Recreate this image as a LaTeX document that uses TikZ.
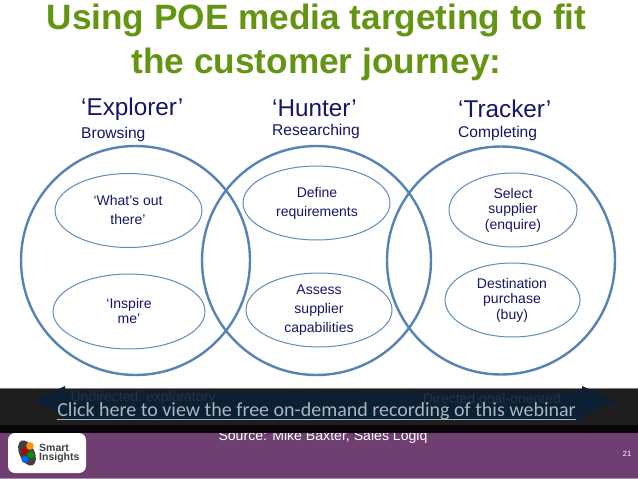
\documentclass[tikz,border=0pt]{standalone}
\usepackage{fontspec}
\setmainfont{Liberation Sans}
\newfontfamily\carl{Carlito}
\definecolor{ttl}{HTML}{639412}
\definecolor{ring}{HTML}{5583B5}
\definecolor{ringb}{HTML}{5F8CBB}
\definecolor{plum}{HTML}{6E3F70}
\definecolor{barc}{HTML}{1E1E1E}
\definecolor{navy}{HTML}{0C1F33}
\definecolor{ink}{HTML}{15156A}
\definecolor{dimtext}{HTML}{24333F}
\definecolor{linktext}{HTML}{A9B6C0}
\tikzset{
  x=1pt,y=-1pt,
  head/.style={font=\fontsize{24.3}{24.3}\selectfont,anchor=base west,inner sep=0pt,text=ink},
  sub/.style={font=\fontsize{15.6}{15.6}\selectfont,anchor=base west,inner sep=0pt,text=ink},
  inner/.style={font=\fontsize{14}{19}\selectfont,align=center,inner sep=0pt,text=ink},
  tight/.style={font=\fontsize{14}{15.5}\selectfont,align=center,inner sep=0pt,text=ink},
  big/.style={draw=ring,line width=2.4pt},
  small/.style={draw=ringb,line width=1pt},
}
\begin{document}
\begin{tikzpicture}
\useasboundingbox (0,0) rectangle (638,479);
\fill[white] (0,0) rectangle (638,479);
\node[font=\bfseries\fontsize{35.2}{44}\selectfont,text=ttl,align=center,inner sep=0pt] (title) at (316.5,42.5) {Using POE media targeting to fit\\the customer journey:};
\node[head] (h1) at (81,115) {‘Explorer’};
\node[head] (h2) at (272,116) {‘Hunter’};
\node[head] (h3) at (458,117) {‘Tracker’};
\node[sub] (s1) at (81,138) {Browsing};
\node[sub] (s2) at (272,135) {Researching};
\node[sub] (s3) at (458,137) {Completing};
\draw[big] (135.5,260.5) circle (114.5);
\draw[big] (316.5,260.5) circle (114.5);
\draw[big] (501,260.5) circle (114);
\draw[small] (128.5,210.5) ellipse (73.5 and 37);
\draw[small] (129,311.5) ellipse (76 and 37.5);
\draw[small] (316.5,203) ellipse (73.5 and 37);
\draw[small] (319,310) ellipse (73 and 37);
\draw[small] (513,210) ellipse (64 and 37);
\draw[small] (512.5,300) ellipse (67.5 and 37);
\node[inner] (a) at (128,210) {‘What’s out\\there’};
\node[tight] (b) at (129,311) {‘Inspire\\me’};
\node[inner] (c) at (317,203) {Define\\requirements};
\node[inner] (d) at (319,310) {Assess\\supplier\\capabilities};
\node[tight] (e) at (513,210) {Select\\supplier\\(enquire)};
\node[tight] (f) at (512,300) {Destination\\purchase\\(buy)};
% source line sits under the band, its top cut off
\fill[plum] (0,425) rectangle (638,478);
\fill[plum!60!white] (0,478) rectangle (638,479);
\node[font=\fontsize{14.1}{14.1}\selectfont,text=white,inner sep=0pt] (src) at (323,437) {Source: Mike Baxter, Sales Logiq};
\fill[black!92!plum] (0,425) rectangle (638,433);
% band
\fill[barc] (0,388) rectangle (638,425);
\draw[gray,line width=.6pt] (0,388) -- (638,388);
\fill[navy] (33,401) -- (65,386) -- (65,392) -- (582,392) -- (582,386) -- (616,401) -- (582,416) -- (582,420) -- (65,420) -- (65,416) -- cycle;
\node[font=\fontsize{14}{14}\selectfont,text=dimtext,inner sep=0pt] (u) at (143,398) {Undirected, exploratory};
\node[font=\fontsize{14}{14}\selectfont,text=dimtext,inner sep=0pt] (v) at (492,400) {Directed goal-oriented};
\node[font=\carl\fontsize{20}{20}\selectfont,text=linktext,inner sep=0pt] (link) at (316.5,411) {Click here to view the free on-demand recording of this webinar};
\draw[linktext,line width=.7pt] (57,419.5) -- (576,419.5);
\node[font=\fontsize{7.5}{7.5}\selectfont,text=white,inner sep=0pt] (n) at (627,454) {21};
% logo
\fill[white,rounded corners=7pt] (8,433) rectangle (86,473);
\fill[black!75,rotate around={25:(27,453)}] (27,453) ellipse (7.5 and 13.5);
\fill[orange!85!yellow] (30,446) circle (3.8);
\fill[red!75!black] (24.5,451) circle (3.2);
\fill[green!60!black] (31,455) circle (3.4);
\fill[blue!60!cyan] (25,459.5) circle (3.6);
\node[font=\bfseries\fontsize{10.5}{10.5}\selectfont,text=black!75,align=left,inner sep=0pt,anchor=west] (sm) at (39,453) {Smart\\[-1.5pt]Insights};
\end{tikzpicture}
\end{document}
